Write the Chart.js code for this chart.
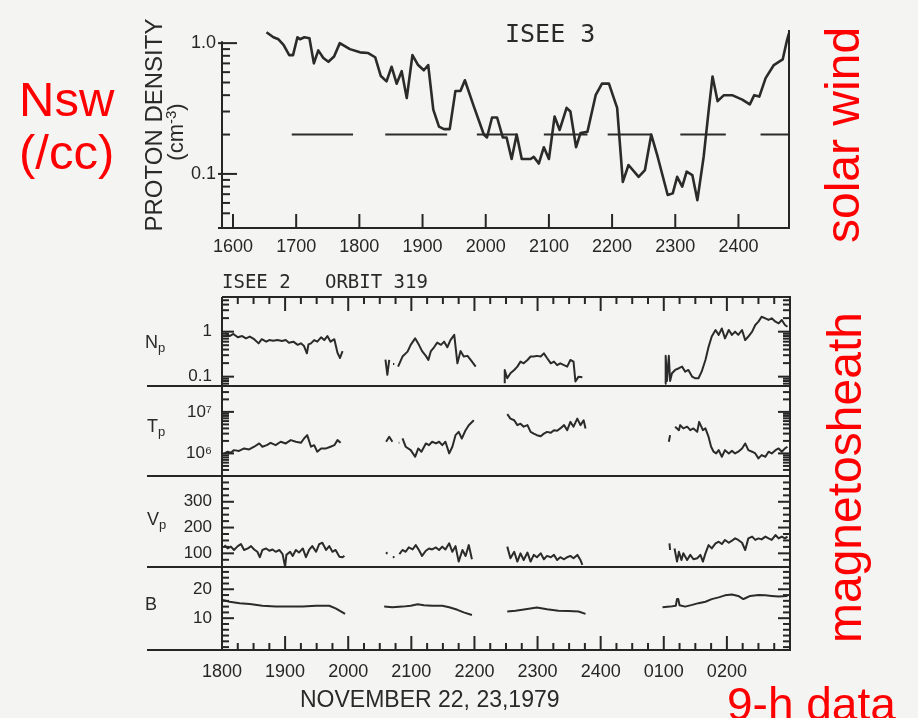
<!DOCTYPE html>
<html>
<head>
<meta charset="utf-8">
<title>ISEE 3 / ISEE 2 orbit 319 - November 22-23, 1979</title>
<script src="https://cdn.jsdelivr.net/npm/chart.js@4.4.1/dist/chart.umd.min.js"></script>
<style>
  html, body { margin: 0; padding: 0; width: 918px; height: 718px; overflow: hidden; background: #f4f4f3; }
  canvas { position: absolute; left: 0; top: 0; }
  .t { position: absolute; white-space: pre; line-height: 1; color: #2a2a2a; font-family: "Liberation Sans", Arial, sans-serif; }
  .mono { font-family: "DejaVu Sans Mono", monospace; }
  .red { color: #ff0000; }
  .up { transform-origin: 0 0; transform: rotate(-90deg); }
  .t sub { font-size: 13px; vertical-align: -4px; line-height: 0; }
  .t sup { font-size: 15px; vertical-align: 7px; line-height: 0; }
</style>
</head>
<body>
<canvas id="solar" width="918" height="718"></canvas>
<canvas id="sheath" width="918" height="718"></canvas>

<div class="t red" style="left:19px; top:73px; font-size:49px; line-height:53px;">Nsw
(/cc)</div>
<div class="t up" style="left:141.7px; top:245px; width:240px; text-align:center; font-size:24px;">PROTON DENSITY</div>
<div class="t up" style="left:165px; top:182px; width:100px; text-align:center; font-size:22px;">(cm<sup>-3</sup>)</div>
<div class="t mono" style="left:505px; top:21px; font-size:25px;">ISEE 3</div>
<div class="t red up" style="left:819.4px; top:243px; font-size:48px;">solar wind</div>

<div class="t mono" style="left:222px; top:272px; font-size:19px;">ISEE 2   ORBIT 319</div>
<div class="t" style="left:145px; top:333px; font-size:18px;">N<sub>p</sub></div>
<div class="t" style="left:147px; top:417px; font-size:18px;">T<sub>p</sub></div>
<div class="t" style="left:147px; top:510px; font-size:18px;">V<sub>p</sub></div>
<div class="t" style="left:145px; top:595px; font-size:18px;">B</div>
<div class="t red up" style="left:821px; top:643px; font-size:48px;">magnetosheath</div>
<div class="t" style="left:300px; top:687.5px; font-size:23px;">NOVEMBER 22, 23,1979</div>
<div class="t red" style="left:727px; top:681px; font-size:46px;">9-h data</div>

<script>
// ---- ISEE 3 solar wind proton density (cm^-3) vs time ----
const solarDensity = [
  [1653, 1.21], [1664, 1.11], [1672, 1.07], [1680, 0.97], [1689, 0.81], [1695, 0.81],
  [1702, 1.11], [1706, 1.07], [1713, 1.11], [1721, 1.09], [1728, 0.70], [1735, 0.88],
  [1743, 0.77], [1751, 0.72], [1760, 0.79], [1769, 1.0], [1785, 0.90], [1801, 0.85],
  [1814, 0.84], [1825, 0.78], [1834, 0.56], [1843, 0.51], [1851, 0.66], [1859, 0.49],
  [1867, 0.61], [1875, 0.38], [1884, 0.81], [1893, 0.68], [1902, 0.62], [1909, 0.68],
  [1917, 0.31], [1926, 0.23], [1934, 0.22], [1943, 0.22], [1952, 0.43], [1960, 0.43],
  [1967, 0.52], [1981, 0.33], [1997, 0.20], [2002, 0.19], [2010, 0.27], [2018, 0.27],
  [2027, 0.19], [2033, 0.19], [2041, 0.13], [2049, 0.20], [2057, 0.13], [2071, 0.13],
  [2076, 0.135], [2084, 0.12], [2092, 0.16], [2100, 0.13], [2109, 0.275], [2117, 0.217],
  [2128, 0.32], [2134, 0.30], [2143, 0.16], [2150, 0.205], [2161, 0.21], [2174, 0.40],
  [2184, 0.49], [2195, 0.49], [2208, 0.32], [2217, 0.087], [2226, 0.117], [2242, 0.095],
  [2252, 0.107], [2262, 0.20], [2272, 0.136], [2288, 0.069], [2296, 0.071], [2303, 0.095],
  [2311, 0.08], [2318, 0.104], [2327, 0.098], [2335, 0.063], [2345, 0.136], [2353, 0.31],
  [2359, 0.556], [2367, 0.36], [2377, 0.40], [2390, 0.40], [2406, 0.37], [2418, 0.34],
  [2425, 0.40], [2433, 0.39], [2443, 0.54], [2456, 0.68], [2470, 0.75], [2477, 1.06],
  [2480, 1.19]
];
// broken reference level at 0.2 cm^-3
const refLevel = 0.2;
const refDashes = [[1693, 1790], [1841, 1939], [1986, 2049], [2092, 2161], [2193, 2262], [2308, 2380], [2435, 2480]];

const solarTimeTicks = [1600, 1700, 1800, 1900, 2000, 2100, 2200, 2300, 2400];
const solarDensityTicks = [0.05, 0.06, 0.07, 0.08, 0.09, 0.1, 0.2, 0.3, 0.4, 0.5, 0.6, 0.7, 0.8, 0.9, 1];
const solarDensityLabelled = [0.1, 1];
const solarDensityLabels = ['0.1', '1.0'];

// ---- ISEE 2 magnetosheath, hours after 0000 Nov 22 ----
const npSegments = [
  [[18.05, 0.95], [18.12, 0.80], [18.18, 0.89], [18.25, 0.75], [18.32, 0.80], [18.38, 0.71], [18.44, 0.78],
   [18.51, 0.68], [18.58, 0.55], [18.63, 0.68], [18.70, 0.60], [18.75, 0.65], [18.81, 0.63], [18.88, 0.65],
   [18.95, 0.62], [19.01, 0.65], [19.06, 0.57], [19.13, 0.60], [19.20, 0.51], [19.25, 0.55], [19.30, 0.48],
   [19.345, 0.33], [19.37, 0.52], [19.41, 0.55], [19.46, 0.65], [19.51, 0.60], [19.57, 0.75], [19.62, 0.65],
   [19.67, 0.80], [19.72, 0.60], [19.78, 0.68], [19.83, 0.34], [19.87, 0.26], [19.91, 0.37]],
  [[20.59, 0.24], [20.62, 0.11], [20.65, 0.235]],
  [[20.71, 0.19], [20.73, 0.19]],
  [[20.79, 0.167], [20.86, 0.28], [20.94, 0.36], [20.99, 0.51], [21.06, 0.71], [21.12, 0.51], [21.17, 0.37],
   [21.23, 0.29], [21.27, 0.235], [21.31, 0.37], [21.36, 0.45], [21.41, 0.57], [21.47, 0.51], [21.52, 0.60],
   [21.57, 0.45], [21.62, 0.65], [21.68, 0.85], [21.73, 0.198], [21.78, 0.37], [21.83, 0.28], [21.89, 0.29],
   [21.94, 0.235], [22.02, 0.167]],
  [[22.48, 0.071], [22.48, 0.141], [22.52, 0.092], [22.57, 0.119], [22.63, 0.141], [22.68, 0.167], [22.73, 0.216],
   [22.78, 0.198], [22.84, 0.235], [22.89, 0.28], [22.94, 0.28], [22.99, 0.29], [23.05, 0.28], [23.10, 0.33],
   [23.15, 0.26], [23.21, 0.198], [23.26, 0.216], [23.31, 0.18], [23.36, 0.198], [23.42, 0.18], [23.47, 0.167],
   [23.52, 0.235], [23.57, 0.216], [23.60, 0.078], [23.65, 0.10], [23.71, 0.097]],
  [[25.02, 0.07], [25.03, 0.29], [25.05, 0.08], [25.08, 0.29], [25.10, 0.08], [25.13, 0.119], [25.18, 0.141],
   [25.24, 0.154], [25.29, 0.167], [25.34, 0.129], [25.39, 0.141], [25.45, 0.10], [25.50, 0.092], [25.55, 0.092],
   [25.60, 0.129], [25.66, 0.235], [25.71, 0.46], [25.76, 0.78], [25.82, 1.09], [25.87, 0.85], [25.92, 1.18],
   [25.97, 0.71], [26.03, 1.09], [26.08, 0.85], [26.13, 1.0], [26.18, 0.85], [26.24, 1.09], [26.29, 0.65],
   [26.34, 0.78], [26.40, 1.0], [26.45, 1.41], [26.50, 1.67], [26.55, 2.15], [26.61, 1.98], [26.66, 1.82],
   [26.71, 1.98], [26.77, 1.67], [26.82, 1.53], [26.87, 1.82], [26.92, 1.41], [26.96, 1.29]]
];
const tpSegments = [
  [[18.04, 1.0e6], [18.09, 1.10e6], [18.14, 1.04e6], [18.19, 1.20e6], [18.27, 1.15e6], [18.35, 1.32e6],
   [18.43, 1.25e6], [18.51, 1.45e6], [18.59, 1.74e6], [18.64, 1.45e6], [18.71, 1.58e6], [18.77, 1.80e6],
   [18.85, 1.58e6], [18.93, 1.91e6], [19.01, 1.74e6], [19.09, 2.09e6], [19.17, 1.91e6], [19.25, 1.80e6],
   [19.30, 2.29e6], [19.35, 2.75e6], [19.41, 1.45e6], [19.46, 1.58e6], [19.51, 1.10e6], [19.57, 1.32e6],
   [19.65, 1.32e6], [19.72, 1.45e6], [19.78, 1.58e6], [19.83, 2.09e6], [19.88, 1.80e6]],
  [[20.60, 1.91e6], [20.65, 2.51e6], [20.70, 1.91e6]],
  [[20.80, 1.80e6], [20.81, 1.80e6]],
  [[20.86, 2.29e6], [20.91, 1.45e6], [20.99, 1.20e6], [21.06, 8.3e5], [21.11, 1.32e6], [21.16, 1.10e6],
   [21.23, 1.74e6], [21.28, 1.58e6], [21.33, 1.91e6], [21.39, 1.74e6], [21.44, 1.91e6], [21.49, 1.58e6],
   [21.54, 1.91e6], [21.60, 1.0e6], [21.65, 1.45e6], [21.70, 2.75e6], [21.75, 3.31e6], [21.80, 2.29e6],
   [21.86, 3.63e6], [21.91, 4.79e6], [21.99, 6.31e6]],
  [[22.52, 8.8e6], [22.57, 6.9e6], [22.63, 6.3e6], [22.68, 4.8e6], [22.73, 5.2e6], [22.78, 4.4e6],
   [22.84, 4.8e6], [22.89, 3.3e6], [22.94, 3.0e6], [22.99, 2.75e6], [23.05, 2.6e6], [23.10, 3.0e6],
   [23.15, 3.3e6], [23.21, 3.13e6], [23.26, 3.63e6], [23.31, 3.5e6], [23.36, 4.0e6], [23.42, 4.8e6],
   [23.47, 3.63e6], [23.52, 5.75e6], [23.57, 4.4e6], [23.63, 6.9e6], [23.68, 4.8e6], [23.73, 6.3e6],
   [23.76, 4.0e6]],
  [[25.08, 1.91e6], [25.10, 2.75e6]],
  [[25.18, 4.4e6], [25.24, 3.63e6], [25.26, 4.8e6], [25.31, 4.0e6], [25.37, 4.4e6], [25.42, 3.63e6],
   [25.47, 4.0e6], [25.53, 3.3e6], [25.56, 5.75e6], [25.62, 3.63e6], [25.66, 4.0e6], [25.71, 2.5e6],
   [25.75, 1.45e6], [25.79, 1.10e6], [25.83, 1.0e6], [25.87, 1.2e6], [25.92, 8.3e5], [25.97, 1.2e6],
   [26.03, 1.0e6], [26.08, 1.15e6], [26.13, 1.0e6], [26.18, 1.10e6], [26.24, 1.32e6], [26.29, 1.74e6],
   [26.34, 1.2e6], [26.40, 1.10e6], [26.45, 1.0e6], [26.50, 7.6e5], [26.55, 9.1e5], [26.61, 8.3e5],
   [26.66, 1.10e6], [26.71, 1.0e6], [26.77, 1.2e6], [26.82, 1.32e6], [26.87, 1.10e6], [26.92, 1.32e6],
   [26.96, 1.45e6]]
];
const vpSegments = [
  [[18.04, 132], [18.09, 119], [18.14, 126], [18.19, 113], [18.25, 128], [18.30, 136], [18.35, 113],
   [18.41, 119], [18.46, 128], [18.51, 115], [18.56, 106], [18.60, 85], [18.64, 113], [18.70, 119],
   [18.75, 110], [18.80, 115], [18.85, 106], [18.91, 113], [18.96, 97], [19.00, 48], [19.02, 94],
   [19.08, 106], [19.12, 90], [19.17, 113], [19.22, 103], [19.28, 119], [19.33, 85], [19.38, 113],
   [19.43, 128], [19.49, 106], [19.54, 136], [19.59, 141], [19.65, 113], [19.70, 128], [19.75, 106],
   [19.80, 113], [19.86, 87], [19.91, 85], [19.94, 90]],
  [[20.60, 102], [20.61, 100]],
  [[20.71, 86], [20.72, 85]],
  [[20.81, 97], [20.86, 113], [20.91, 106], [20.96, 123], [21.02, 115], [21.07, 132], [21.12, 113],
   [21.17, 90], [21.23, 110], [21.28, 119], [21.33, 115], [21.39, 123], [21.44, 113], [21.49, 126],
   [21.54, 115], [21.60, 139], [21.65, 106], [21.70, 128], [21.75, 68], [21.81, 113], [21.86, 90],
   [21.91, 132], [21.96, 77]],
  [[22.52, 126], [22.57, 81], [22.63, 106], [22.68, 68], [22.73, 100], [22.78, 74], [22.84, 103],
   [22.89, 68], [22.94, 94], [22.99, 85], [23.05, 100], [23.10, 77], [23.15, 90], [23.21, 85],
   [23.26, 94], [23.31, 74], [23.36, 85], [23.42, 77], [23.47, 85], [23.52, 90], [23.57, 81],
   [23.63, 94], [23.68, 74], [23.71, 55]],
  [[25.09, 139], [25.10, 113]],
  [[25.17, 119], [25.21, 68], [25.24, 106], [25.28, 74], [25.31, 100], [25.37, 74], [25.42, 94],
   [25.47, 77], [25.53, 81], [25.58, 94], [25.62, 68], [25.66, 100], [25.71, 132], [25.76, 119],
   [25.82, 139], [25.87, 145], [25.92, 136], [25.97, 152], [26.03, 141], [26.08, 149], [26.13, 158],
   [26.18, 152], [26.24, 141], [26.29, 113], [26.34, 158], [26.40, 165], [26.45, 152], [26.50, 158],
   [26.55, 154], [26.61, 165], [26.66, 158], [26.71, 152], [26.77, 171], [26.82, 158], [26.87, 165],
   [26.92, 158], [26.96, 165]]
];
const bSegments = [
  [[18.01, 16.3], [18.12, 15.7], [18.28, 15.2], [18.44, 14.9], [18.64, 14.3], [18.85, 14.0], [19.06, 14.0],
   [19.28, 14.0], [19.49, 14.3], [19.70, 14.3], [19.80, 13.4], [19.91, 12.0], [19.95, 11.5]],
  [[20.57, 14.0], [20.70, 13.8], [20.86, 14.0], [20.99, 14.3], [21.10, 14.8], [21.20, 14.5], [21.33, 14.3],
   [21.49, 14.3], [21.60, 13.8], [21.73, 12.9], [21.83, 12.0], [21.96, 11.1]],
  [[22.52, 12.3], [22.65, 12.6], [22.81, 13.1], [22.99, 13.7], [23.15, 13.1], [23.33, 12.6], [23.49, 12.5],
   [23.65, 12.3], [23.76, 11.5]],
  [[24.98, 13.8], [25.10, 14.0], [25.19, 14.3], [25.21, 16.6], [25.23, 16.6], [25.25, 14.5], [25.34, 14.0],
   [25.45, 14.6], [25.55, 15.2], [25.66, 15.7], [25.76, 16.6], [25.87, 17.2], [25.97, 17.9], [26.08, 18.2],
   [26.18, 17.7], [26.26, 16.6], [26.29, 16.9], [26.37, 17.7], [26.50, 18.0], [26.61, 17.9], [26.71, 17.7],
   [26.82, 17.5], [26.96, 17.7]]
];

const hourLabelled = [18, 19, 20, 21, 22, 23, 24, 25, 26];
const hourLabels = ['1800', '1900', '2000', '2100', '2200', '2300', '2400', '0100', '0200'];

const npTicks = [0.07, 0.08, 0.09, 0.1, 0.2, 0.3, 0.4, 0.5, 0.6, 0.7, 0.8, 0.9, 1, 2, 3, 4, 5];
const npLabelled = [0.1, 1];
const npLabels = ['0.1', '1'];
const tpTicks = [4e5, 5e5, 6e5, 7e5, 8e5, 9e5, 1e6, 2e6, 3e6, 4e6, 5e6, 6e6, 7e6, 8e6, 9e6, 1e7, 2e7, 3e7];
const tpLabelled = [1e6, 1e7];
const tpLabels = ['10\u2076', '10\u2077'];
const vpTicks = [50, 75, 100, 125, 150, 175, 200, 225, 250, 275, 300, 325, 350, 375];
const vpLabelled = [100, 200, 300];
const vpLabels = ['100', '200', '300'];
const bTicks = [0, 2, 4, 6, 8, 10, 12, 14, 16, 18, 20, 22, 24, 26];
const bLabelled = [10, 20];
const bLabels = ['10', '20'];

// ---- shared styling ----
const ink = '#262626';
const trace = '#2b2b2b';
const axisWidth = 222;     // width reserved left of the plot frame
const ruleReach = 75;      // panel rules run this far left of the frame

Chart.defaults.font.family = '"Liberation Sans", Arial, sans-serif';
Chart.defaults.color = ink;

function labelFor(v, labelled, labels) {
  const i = labelled.indexOf(v);
  return i < 0 ? '' : labels[i];
}

function withGaps(segments) {
  const out = [];
  segments.forEach((seg, i) => {
    if (i) out.push([seg[0][0], null]);
    out.push(...seg);
  });
  return out;
}

function strokeLine(ctx, x1, y1, x2, y2) {
  ctx.beginPath();
  ctx.moveTo(x1, y1);
  ctx.lineTo(x2, y2);
  ctx.stroke();
}

const lineStyle = {
  borderColor: trace,
  borderWidth: 2,
  pointRadius: 0,
  tension: 0,
  spanGaps: false,
  borderJoinStyle: 'round'
};

// frame + inward tick marks for the ISEE 3 panel
const solarFrame = {
  id: 'solarFrame',
  afterDatasetsDraw(chart) {
    const { ctx, chartArea: a, scales: { x, y } } = chart;
    ctx.save();
    ctx.strokeStyle = ink;
    ctx.lineWidth = 2;
    strokeLine(ctx, a.left - 4, a.bottom, a.right + 1, a.bottom);
    strokeLine(ctx, a.left, a.bottom, a.left, y.getPixelForValue(1) - 2);
    strokeLine(ctx, a.right, a.bottom, a.right, a.top);
    x.ticks.forEach(t => {
      const p = x.getPixelForValue(t.value);
      strokeLine(ctx, p, a.bottom, p, a.bottom - 14);
    });
    y.ticks.forEach(t => {
      const p = y.getPixelForValue(t.value);
      const major = solarDensityLabelled.includes(t.value);
      strokeLine(ctx, major ? a.left - 4 : a.left, p, a.left + (major ? 15 : 8), p);
    });
    ctx.restore();
  }
};

// frame, panel rules and tick marks for the stacked ISEE 2 panels
const panelIds = ['np', 'tp', 'vp', 'b'];
const panelMajors = { np: npLabelled, tp: tpLabelled, vp: vpLabelled, b: bLabelled };

const sheathFrame = {
  id: 'sheathFrame',
  afterDatasetsDraw(chart) {
    const { ctx, chartArea: a, scales } = chart;
    const x = scales.x;
    ctx.save();
    ctx.strokeStyle = ink;
    ctx.lineWidth = 2;
    strokeLine(ctx, a.left, a.top, a.right + 1, a.top);
    strokeLine(ctx, a.left, a.top, a.left, a.bottom);
    strokeLine(ctx, a.right, a.top, a.right, a.bottom);
    strokeLine(ctx, a.left - ruleReach, a.bottom, a.right + 1, a.bottom);
    ['np', 'tp', 'vp'].forEach(id => {
      const yb = scales[id].bottom;
      strokeLine(ctx, a.left - ruleReach, yb, a.right + 1, yb);
    });
    x.ticks.forEach(t => {
      const p = x.getPixelForValue(t.value);
      const len = Number.isInteger(t.value) ? 14 : 7;
      strokeLine(ctx, p, a.bottom, p, a.bottom - len);
      strokeLine(ctx, p, a.top, p, a.top + len);
    });
    panelIds.forEach(id => {
      const s = scales[id];
      s.ticks.forEach(t => {
        const p = s.getPixelForValue(t.value);
        if (p < s.top + 1 || p > s.bottom - 1) return;
        const len = panelMajors[id].includes(t.value) ? 12 : 7;
        strokeLine(ctx, a.left, p, a.left + len, p);
        strokeLine(ctx, a.right, p, a.right - len, p);
      });
    });
    ctx.restore();
  }
};

const plainGrid = { display: false, drawTicks: false };
const noBorder = { display: false };

// ================================
// ISEE 3 proton density
// ================================
new Chart(document.getElementById('solar'), {
  type: 'line',
  data: {
    datasets: [
      { data: solarDensity, ...lineStyle, borderWidth: 2.6 },
      { data: withGaps(refDashes.map(([a, b]) => [[a, refLevel], [b, refLevel]])), ...lineStyle }
    ]
  },
  options: {
    responsive: false,
    animation: false,
    events: [],
    layout: { padding: { top: 30, right: 129, bottom: 460, left: 0 } },
    plugins: { legend: { display: false }, tooltip: { enabled: false } },
    scales: {
      x: {
        type: 'linear', min: 1582.6, max: 2480, bounds: 'data',
        afterBuildTicks: s => { s.ticks = solarTimeTicks.map(v => ({ value: v })); },
        afterFit: s => { s.height = 30; },
        grid: plainGrid, border: noBorder,
        ticks: { autoSkip: false, maxRotation: 0, padding: 8, font: { size: 18 }, callback: v => String(v) }
      },
      y: {
        type: 'logarithmic', min: 0.0386, max: 1.26, bounds: 'data',
        afterBuildTicks: s => { s.ticks = solarDensityTicks.map(v => ({ value: v })); },
        afterFit: s => { s.width = axisWidth; },
        grid: plainGrid, border: noBorder,
        ticks: { autoSkip: false, padding: 6, font: { size: 18 },
                 callback: v => labelFor(v, solarDensityLabelled, solarDensityLabels) }
      }
    }
  },
  plugins: [solarFrame]
});

// ================================
// ISEE 2 stacked panels
// ================================
function panelAxis(ticks, labelled, labels, extra) {
  return Object.assign({
    position: 'left',
    stack: 'sheath',
    bounds: 'data',
    afterBuildTicks: s => { s.ticks = ticks.map(v => ({ value: v })); },
    afterFit: s => { s.width = axisWidth; },
    grid: plainGrid,
    border: noBorder,
    ticks: { autoSkip: false, padding: 10, font: { size: 17 }, callback: v => labelFor(v, labelled, labels) }
  }, extra);
}

new Chart(document.getElementById('sheath'), {
  type: 'line',
  data: {
    datasets: [
      { data: withGaps(npSegments), yAxisID: 'np', ...lineStyle },
      { data: withGaps(tpSegments), yAxisID: 'tp', ...lineStyle },
      { data: withGaps(vpSegments), yAxisID: 'vp', ...lineStyle },
      { data: withGaps(bSegments), yAxisID: 'b', ...lineStyle }
    ]
  },
  options: {
    responsive: false,
    animation: false,
    events: [],
    layout: { padding: { top: 297, right: 128, bottom: 0, left: 0 } },
    plugins: { legend: { display: false }, tooltip: { enabled: false } },
    scales: {
      x: {
        type: 'linear', min: 18, max: 27, bounds: 'data',
        afterBuildTicks: s => {
          const t = [];
          for (let h = 18; h <= 27; h += 0.25) t.push({ value: h });
          s.ticks = t;
        },
        afterFit: s => { s.height = 68; },
        grid: plainGrid, border: noBorder,
        ticks: { autoSkip: false, maxRotation: 0, padding: 11, font: { size: 18 },
                 callback: v => labelFor(v, hourLabelled, hourLabels) }
      },
      np: panelAxis(npTicks, npLabelled, npLabels,
        { type: 'logarithmic', min: 0.062, max: 5.9, stackWeight: 89, weight: 4 }),
      tp: panelAxis(tpTicks, tpLabelled, tpLabels,
        { type: 'logarithmic', min: 2.86e5, max: 4.2e7, stackWeight: 90, weight: 3 }),
      vp: panelAxis(vpTicks, vpLabelled, vpLabels,
        { type: 'linear', min: 47, max: 400, stackWeight: 91, weight: 2 }),
      b: panelAxis(bTicks, bLabelled, bLabels,
        { type: 'linear', min: -1, max: 27.7, stackWeight: 83, weight: 1 })
    }
  },
  plugins: [sheathFrame]
});
</script>
</body>
</html>
